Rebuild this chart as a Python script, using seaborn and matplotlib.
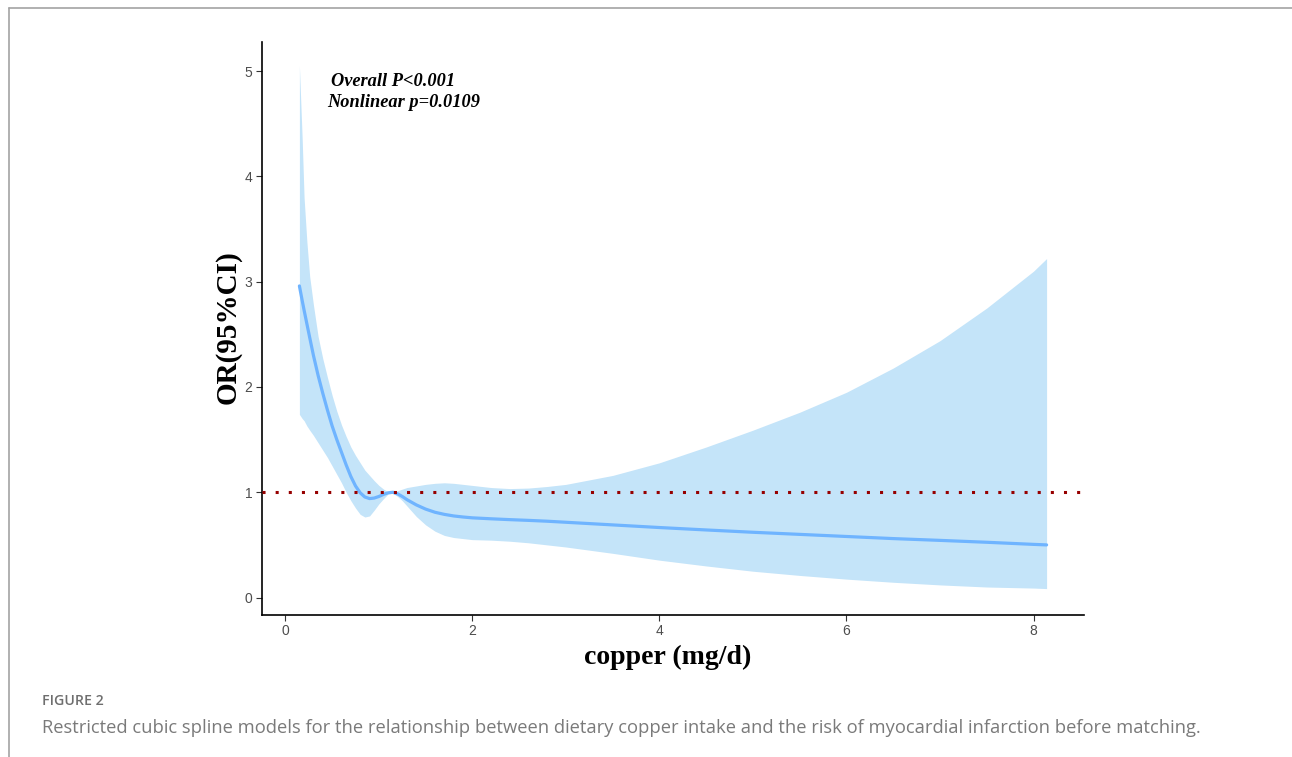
import numpy as np
import pandas as pd
import matplotlib
matplotlib.use("Agg")
import matplotlib.pyplot as plt
from matplotlib.lines import Line2D
import seaborn as sns

# ---- data ----
copper = [0.15, 0.18, 0.2, 0.23, 0.26, 0.3, 0.35, 0.4, 0.45, 0.5, 0.55, 0.6, 0.65, 0.7,
          0.75, 0.8, 0.85, 0.9, 0.95, 1.0, 1.05, 1.1, 1.15, 1.2, 1.25, 1.3, 1.4, 1.5,
          1.6, 1.7, 1.8, 1.9, 2.0, 2.2, 2.4, 2.6, 2.8, 3.0, 3.5, 4.0, 4.5, 5.0, 5.5,
          6.0, 6.5, 7.0, 7.5, 8.0, 8.14]
or_est = [2.96, 2.82, 2.73, 2.60, 2.47, 2.30, 2.11, 1.94, 1.78, 1.63, 1.50, 1.38, 1.26, 1.15,
          1.06, 0.995, 0.955, 0.94, 0.945, 0.96, 0.98, 0.995, 1.0, 0.985, 0.96, 0.93, 0.88, 0.84,
          0.81, 0.79, 0.775, 0.765, 0.757, 0.748, 0.74, 0.733, 0.725, 0.715, 0.69, 0.665, 0.642,
          0.62, 0.60, 0.58, 0.56, 0.543, 0.525, 0.505, 0.50]
ci_upper = [5.05, 4.35, 3.80, 3.38, 3.05, 2.78, 2.48, 2.27, 2.09, 1.92, 1.77, 1.64, 1.53, 1.43,
            1.35, 1.28, 1.21, 1.16, 1.11, 1.065, 1.03, 1.005, 1.0, 1.015, 1.03, 1.045, 1.06, 1.075,
            1.085, 1.09, 1.085, 1.075, 1.065, 1.045, 1.035, 1.04, 1.055, 1.075, 1.16, 1.28, 1.43,
            1.59, 1.76, 1.95, 2.18, 2.44, 2.75, 3.10, 3.22]
ci_lower = [1.74, 1.70, 1.68, 1.63, 1.59, 1.54, 1.47, 1.40, 1.33, 1.25, 1.17, 1.09, 1.00, 0.92,
            0.85, 0.79, 0.765, 0.775, 0.83, 0.89, 0.94, 0.985, 0.99, 0.96, 0.92, 0.87, 0.77, 0.69,
            0.63, 0.59, 0.57, 0.56, 0.55, 0.545, 0.535, 0.52, 0.50, 0.48, 0.42, 0.355, 0.30,
            0.25, 0.21, 0.175, 0.145, 0.12, 0.10, 0.09, 0.085]
ref_or = 1.0
x_ticks = [0, 2, 4, 6, 8]
y_ticks = [0, 1, 2, 3, 4, 5]
annot_lines = ["Overall P<0.001", "Nonlinear p=0.0109"]
x_label = "copper (mg/d)"
y_label = "OR(95%CI)"
fig_label = "FIGURE 2"
caption = ("Restricted cubic spline models for the relationship between dietary copper "
           "intake and the risk of myocardial infarction before matching.")

df = pd.DataFrame({"copper": copper, "OR": or_est, "lower": ci_lower, "upper": ci_upper})

sns.set_theme(style="ticks")
plt.rcParams["font.family"] = ["DejaVu Sans"]

W, H = 1292, 757
fig = plt.figure(figsize=(W / 100, H / 100), dpi=100)
ax = fig.add_axes([262 / W, 1 - 614.7 / H, (1084 - 262) / W, (614.7 - 41.7) / H])

band_col = "#C4E4F9"
line_col = "#6FB4FF"

ax.fill_between(df["copper"], df["lower"], df["upper"], color=band_col, lw=0, zorder=1)
sns.lineplot(data=df, x="copper", y="OR", ax=ax, color=line_col, lw=2.3, zorder=3,
             estimator=None, sort=False)
ax.axhline(ref_or, color="#960000", lw=2.2, linestyle=(0, (1, 3.3)), zorder=4,
           dash_capstyle="butt")

ax.set_xlim(-0.25, 8.54)
ax.set_ylim(-0.163, 5.28)
ax.set_xticks(x_ticks)
ax.set_yticks(y_ticks)
ax.set_xticklabels([str(t) for t in x_ticks])
ax.set_yticklabels([str(t) for t in y_ticks])
ax.tick_params(axis="both", length=4, width=0.8, color="#333333", labelsize=10,
               labelcolor="#4D4D4D", pad=3)
for lab in ax.get_xticklabels() + ax.get_yticklabels():
    lab.set_family("Liberation Sans")
for s in ["top", "right"]:
    ax.spines[s].set_visible(False)
for s in ["left", "bottom"]:
    ax.spines[s].set_color("black")
    ax.spines[s].set_linewidth(1.2)

ax.set_xlabel("")
ax.set_ylabel("")
fig.text(668 / W, 1 - 657 / H, x_label, ha="center", va="center", family="Liberation Serif",
         fontweight="bold", fontsize=20, color="black")
fig.text(228 / W, 1 - 327 / H, y_label, ha="center", va="center", rotation=90,
         family="Liberation Serif", fontweight="bold", fontsize=21, color="black")

ax.text(0.49, 4.9, annot_lines[0], ha="left", va="center", family="Liberation Serif",
        fontweight="bold", fontstyle="italic", fontsize=13.2, color="black", zorder=5)
ax.text(0.445, 4.7, annot_lines[1], ha="left", va="center", family="Liberation Serif",
        fontweight="bold", fontstyle="italic", fontsize=13.2, color="black", zorder=5)

# page frame
fig.add_artist(Line2D([9 / W, 1.0], [1 - 8 / H, 1 - 8 / H], transform=fig.transFigure,
                      color="#A3A3A3", lw=1.2))
fig.add_artist(Line2D([9 / W, 9 / W], [0, 1 - 8 / H], transform=fig.transFigure,
                      color="#A3A3A3", lw=1.2))

fig.text(42 / W, 1 - 701 / H, fig_label, ha="left", va="center", family="Open Sans",
         fontweight="semibold", fontsize=10.2, color="#6E6E6E")
fig.text(42 / W, 1 - 728 / H, caption, ha="left", va="center", family="Open Sans",
         fontsize=13.2, color="#7A7A7A")

fig.savefig("out.png", dpi=100, facecolor="white")
